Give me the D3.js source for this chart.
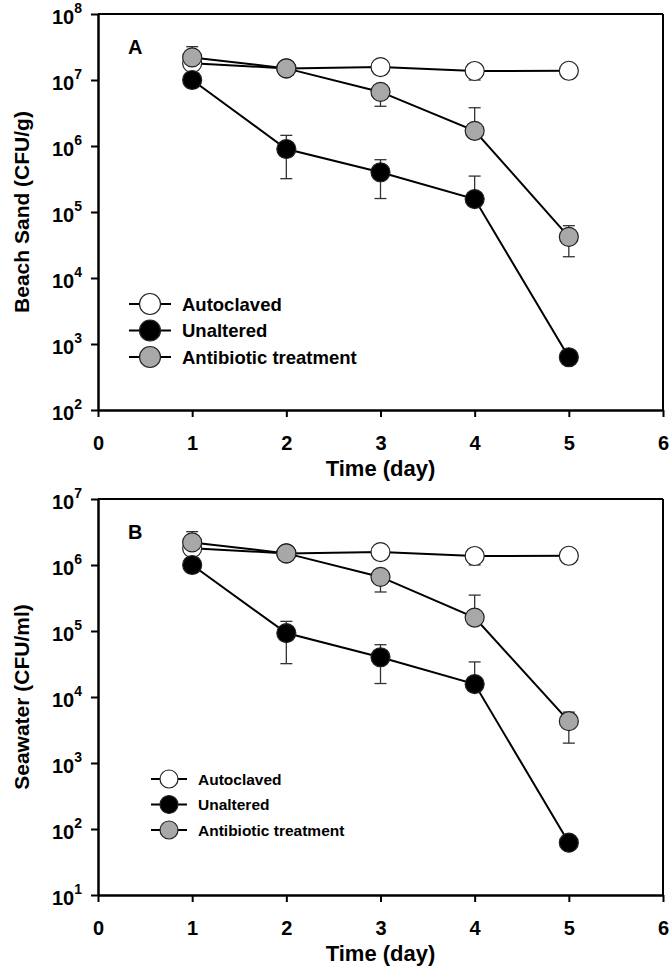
<!DOCTYPE html>
<html>
<head>
<meta charset="utf-8">
<script src="https://cdn.jsdelivr.net/npm/d3@7"></script>
<style>
  body { margin: 0; background: #fff; }
  text { font-family: "Liberation Sans", Arial, sans-serif; font-weight: bold; fill: #000; }
</style>
</head>
<body>
<div id="chart"></div>
<script>
// shared x values and series names
const days = [1, 2, 3, 4, 5];
const seriesNames = ["Autoclaved", "Unaltered", "Antibiotic treatment"];
const xTicks = [0, 1, 2, 3, 4, 5, 6];

// Panel A - beach sand (CFU/g)
const sandAutoclaved = [1.8e7, 1.5e7, 1.57e7, 1.37e7, 1.38e7];
const sandAutoclavedUp = [null, null, null, null, null];
const sandAutoclavedLo = [null, null, null, 1.0e7, null];
const sandUnaltered = [1.0e7, 9.0e5, 4.0e5, 1.57e5, 630];
const sandUnalteredUp = [null, 1.45e6, 6.2e5, 3.5e5, null];
const sandUnalteredLo = [null, 3.2e5, 1.6e5, null, null];
const sandAntibiotic = [2.2e7, 1.5e7, 6.6e6, 1.7e6, 4.2e4];
const sandAntibioticUp = [3.2e7, null, null, 3.8e6, 6.2e4];
const sandAntibioticLo = [null, null, 4.0e6, null, 2.1e4];
const sandYTicks = [1e2, 1e3, 1e4, 1e5, 1e6, 1e7, 1e8];

// Panel B - seawater (CFU/ml)
const seaAutoclaved = [1.8e6, 1.5e6, 1.57e6, 1.37e6, 1.38e6];
const seaAutoclavedUp = [null, null, null, null, null];
const seaAutoclavedLo = [null, null, null, 1.0e6, null];
const seaUnaltered = [1.0e6, 9.3e4, 4.0e4, 1.57e4, 62];
const seaUnalteredUp = [null, 1.4e5, 6.2e4, 3.4e4, null];
const seaUnalteredLo = [null, 3.2e4, 1.6e4, null, null];
const seaAntibiotic = [2.2e6, 1.5e6, 6.6e5, 1.6e5, 4.3e3];
const seaAntibioticUp = [3.2e6, null, null, 3.5e5, 5.9e3];
const seaAntibioticLo = [null, null, 3.9e5, null, 2.0e3];
const seaYTicks = [1e1, 1e2, 1e3, 1e4, 1e5, 1e6, 1e7];

const fills = ["#ffffff", "#000000", "#a8a8a8"];

const svg = d3.select("#chart").append("svg")
    .attr("width", 672)
    .attr("height", 980);

function drawPanel(p) {
    const left = 98, right = 663;
    const xScale = d3.scaleLinear().domain([0, 6]).range([left, right]);
    const yScale = d3.scaleLog().domain(p.yDomain).range([p.bottom, p.top]);

    const g = svg.append("g");

    //frame: thin top and right edges
    g.append("line").attr("x1", left).attr("x2", right).attr("y1", p.top).attr("y2", p.top)
        .attr("stroke", "#000").attr("stroke-width", 2);
    g.append("line").attr("x1", right).attr("x2", right).attr("y1", p.top).attr("y2", p.bottom)
        .attr("stroke", "#000").attr("stroke-width", 2);

    //bottom axis
    const xAxis = g.append("g")
        .attr("transform", "translate(0," + p.bottom + ")")
        .call(d3.axisBottom(xScale).tickValues(xTicks).tickFormat(d3.format("d"))
            .tickSize(7).tickSizeOuter(0).tickPadding(19));
    xAxis.select(".domain").attr("stroke-width", 2.5);
    xAxis.selectAll(".tick line").attr("stroke-width", 2);
    xAxis.selectAll(".tick text").attr("font-size", 20).attr("font-family", null);

    //left axis with 10^n labels
    const yAxis = g.append("g")
        .attr("transform", "translate(" + left + ",0)")
        .call(d3.axisLeft(yScale).tickValues(p.yTicks).tickSize(7).tickSizeOuter(0).tickPadding(9));
    yAxis.select(".domain").attr("stroke-width", 2.5);
    yAxis.selectAll(".tick line").attr("stroke-width", 2);
    yAxis.selectAll(".tick text")
        .attr("font-family", null)
        .attr("font-size", 20)
        .attr("dy", "0.45em")
        .each(function(d) {
            const t = d3.select(this).text("");
            t.append("tspan").text("10");
            t.append("tspan").attr("font-size", 14).attr("dy", "-0.75em").text(Math.round(Math.log10(d)));
        });

    //axis titles
    g.append("text")
        .attr("x", (left + right) / 2)
        .attr("y", p.bottom + 66)
        .attr("text-anchor", "middle")
        .attr("font-size", 22)
        .text("Time (day)");
    g.append("text")
        .attr("transform", "translate(29," + ((p.top + p.bottom) / 2) + ") rotate(-90)")
        .attr("text-anchor", "middle")
        .attr("font-size", 21)
        .text(p.yTitle);

    //panel letter
    g.append("text")
        .attr("x", 128)
        .attr("y", p.top + 40)
        .attr("font-size", 20)
        .text(p.label);

    //series: lines, then error bars, then markers
    const line = d3.line().x(d => xScale(d.x)).y(d => yScale(d.y));
    p.series.forEach((s, i) => {
        const pts = days.map((d, j) => ({x: d, y: s.values[j], up: s.up[j], lo: s.lo[j]}));
        g.append("path")
            .datum(pts)
            .attr("d", line)
            .attr("fill", "none")
            .attr("stroke", "#000")
            .attr("stroke-width", 2);

        const bars = [];
        pts.forEach(d => {
            if (d.up != null) bars.push({x: d.x, y0: d.y, y1: d.up});
            if (d.lo != null) bars.push({x: d.x, y0: d.y, y1: d.lo});
        });
        const eb = g.append("g").attr("stroke", "#333").attr("stroke-width", 1.3);
        eb.selectAll("line.bar")
            .data(bars)
            .join("line")
            .attr("class", "bar")
            .attr("x1", d => xScale(d.x)).attr("x2", d => xScale(d.x))
            .attr("y1", d => yScale(d.y0)).attr("y2", d => yScale(d.y1));
        eb.selectAll("line.cap")
            .data(bars)
            .join("line")
            .attr("class", "cap")
            .attr("x1", d => xScale(d.x) - 6).attr("x2", d => xScale(d.x) + 6)
            .attr("y1", d => yScale(d.y1)).attr("y2", d => yScale(d.y1));

        g.selectAll("circle.s" + i)
            .data(pts)
            .join("circle")
            .attr("class", "s" + i)
            .attr("cx", d => xScale(d.x))
            .attr("cy", d => yScale(d.y))
            .attr("r", 9.5)
            .attr("fill", fills[i])
            .attr("stroke", "#222")
            .attr("stroke-width", 1.2);
    });

    //legend
    const lg = g.append("g");
    seriesNames.forEach((name, i) => {
        const cy = p.legend.y + i * p.legend.step;
        lg.append("line")
            .attr("x1", p.legend.x - p.legend.half).attr("x2", p.legend.x + p.legend.half)
            .attr("y1", cy).attr("y2", cy)
            .attr("stroke", "#000").attr("stroke-width", 2);
        lg.append("circle")
            .attr("cx", p.legend.x).attr("cy", cy)
            .attr("r", p.legend.r)
            .attr("fill", fills[i])
            .attr("stroke", "#222")
            .attr("stroke-width", 1.2);
        lg.append("text")
            .attr("x", p.legend.x + p.legend.half + 11)
            .attr("y", cy)
            .attr("dy", "0.36em")
            .attr("font-size", p.legend.fontSize)
            .text(name);
    });
}

drawPanel({
    top: 14, bottom: 410,
    yDomain: [1e2, 1e8], yTicks: sandYTicks,
    yTitle: "Beach Sand (CFU/g)", label: "A",
    series: [
        {values: sandAutoclaved, up: sandAutoclavedUp, lo: sandAutoclavedLo},
        {values: sandUnaltered, up: sandUnalteredUp, lo: sandUnalteredLo},
        {values: sandAntibiotic, up: sandAntibioticUp, lo: sandAntibioticLo}
    ],
    legend: {x: 150, y: 304, step: 26.5, half: 21, r: 10.5, fontSize: 18.5}
});

drawPanel({
    top: 499, bottom: 895,
    yDomain: [1e1, 1e7], yTicks: seaYTicks,
    yTitle: "Seawater (CFU/ml)", label: "B",
    series: [
        {values: seaAutoclaved, up: seaAutoclavedUp, lo: seaAutoclavedLo},
        {values: seaUnaltered, up: seaUnalteredUp, lo: seaUnalteredLo},
        {values: seaAntibiotic, up: seaAntibioticUp, lo: seaAntibioticLo}
    ],
    legend: {x: 169, y: 779, step: 25.5, half: 18, r: 9, fontSize: 15.5}
});
</script>
</body>
</html>
